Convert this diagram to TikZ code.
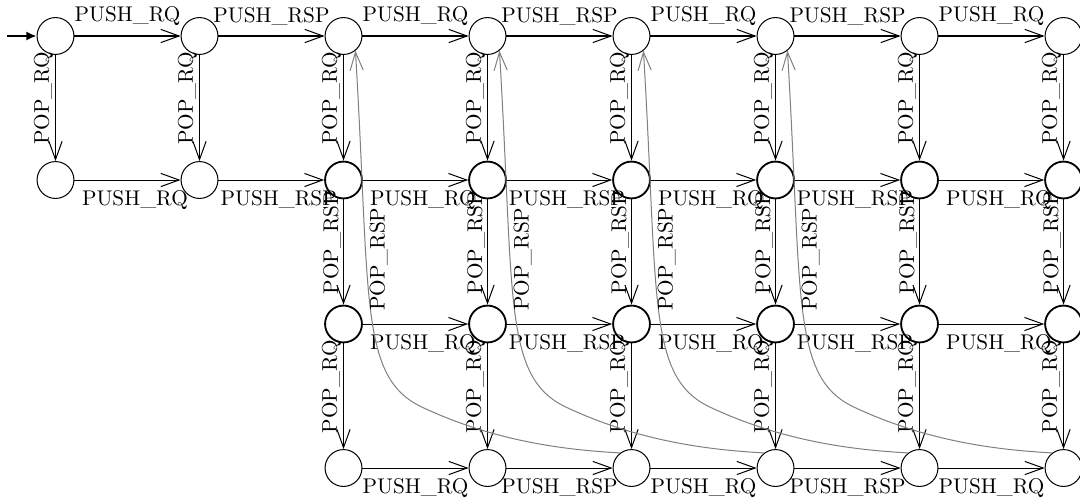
\documentclass[tikz,border=0pt]{standalone}
\usepackage{tikz}
\usetikzlibrary{positioning, arrows.meta}
\tikzset{
  every node/.style={font=\fontsize{10.5}{12.5}\selectfont},
  % states
  loc/.style ={circle, draw, line width=0.5pt, minimum size=0.64cm, inner sep=0pt},
  busy/.style={loc, line width=0.9pt},
  % transitions
  trans/.style={line width=0.5pt, -{Straight Barb[length=9pt,width=6.5pt]}},
  back/.style ={trans, gray},
  entry/.style={line width=1pt, -{Latex[length=5pt,width=4.5pt]}},
  % labels
  hlbl/.style={inner sep=5pt},
  vlbl/.style={rotate=90, anchor=south, inner sep=1pt, pos=0.41},
  blbl/.style={rotate=90, anchor=north, inner sep=1.5pt, pos=0.64, text=black},
}

\begin{document}
\begin{tikzpicture}[on grid, node distance=2.5cm]

\useasboundingbox (-0.9635,-8.108) rectangle (17.786,0.625);

% row 0
\node[loc] (r0c0) at (0,0) {};
\node[loc, right=of r0c0] (r0c1) {};
\node[loc, right=of r0c1] (r0c2) {};
\node[loc, right=of r0c2] (r0c3) {};
\node[loc, right=of r0c3] (r0c4) {};
\node[loc, right=of r0c4] (r0c5) {};
\node[loc, right=of r0c5] (r0c6) {};
\node[loc, right=of r0c6] (r0c7) {};

% row 1
\node[loc,  below=of r0c0] (r1c0) {};
\node[loc,  right=of r1c0] (r1c1) {};
\node[busy, right=of r1c1] (r1c2) {};
\node[busy, right=of r1c2] (r1c3) {};
\node[busy, right=of r1c3] (r1c4) {};
\node[busy, right=of r1c4] (r1c5) {};
\node[busy, right=of r1c5] (r1c6) {};
\node[busy, right=of r1c6] (r1c7) {};

% row 2
\node[busy, below=of r1c2] (r2c2) {};
\node[busy, right=of r2c2] (r2c3) {};
\node[busy, right=of r2c3] (r2c4) {};
\node[busy, right=of r2c4] (r2c5) {};
\node[busy, right=of r2c5] (r2c6) {};
\node[busy, right=of r2c6] (r2c7) {};

% row 3
\node[loc, below=of r2c2] (r3c2) {};
\node[loc, right=of r3c2] (r3c3) {};
\node[loc, right=of r3c3] (r3c4) {};
\node[loc, right=of r3c4] (r3c5) {};
\node[loc, right=of r3c5] (r3c6) {};
\node[loc, right=of r3c6] (r3c7) {};

% initial state
\coordinate[left=0.84cm of r0c0] (start);
\draw[entry] (start) -- (r0c0);

% pushes
\draw[trans] (r0c0) -- node[above, hlbl] {PUSH\_RQ}  (r0c1);
\draw[trans] (r0c1) -- node[above, hlbl] {PUSH\_RSP} (r0c2);
\draw[trans] (r0c2) -- node[above, hlbl] {PUSH\_RQ}  (r0c3);
\draw[trans] (r0c3) -- node[above, hlbl] {PUSH\_RSP} (r0c4);
\draw[trans] (r0c4) -- node[above, hlbl] {PUSH\_RQ}  (r0c5);
\draw[trans] (r0c5) -- node[above, hlbl] {PUSH\_RSP} (r0c6);
\draw[trans] (r0c6) -- node[above, hlbl] {PUSH\_RQ}  (r0c7);

\draw[trans] (r1c0) -- node[below, hlbl, pos=0.57] {PUSH\_RQ}  (r1c1);
\draw[trans] (r1c1) -- node[below, hlbl, pos=0.57] {PUSH\_RSP} (r1c2);
\draw[trans] (r1c2) -- node[below, hlbl, pos=0.57] {PUSH\_RQ}  (r1c3);
\draw[trans] (r1c3) -- node[below, hlbl, pos=0.57] {PUSH\_RSP} (r1c4);
\draw[trans] (r1c4) -- node[below, hlbl, pos=0.57] {PUSH\_RQ}  (r1c5);
\draw[trans] (r1c5) -- node[below, hlbl, pos=0.57] {PUSH\_RSP} (r1c6);
\draw[trans] (r1c6) -- node[below, hlbl, pos=0.57] {PUSH\_RQ}  (r1c7);

\draw[trans] (r2c2) -- node[below, hlbl, pos=0.57] {PUSH\_RQ}  (r2c3);
\draw[trans] (r2c3) -- node[below, hlbl, pos=0.57] {PUSH\_RSP} (r2c4);
\draw[trans] (r2c4) -- node[below, hlbl, pos=0.57] {PUSH\_RQ}  (r2c5);
\draw[trans] (r2c5) -- node[below, hlbl, pos=0.57] {PUSH\_RSP} (r2c6);
\draw[trans] (r2c6) -- node[below, hlbl, pos=0.57] {PUSH\_RQ}  (r2c7);

\draw[trans] (r3c2) -- node[below, hlbl] {PUSH\_RQ}  (r3c3);
\draw[trans] (r3c3) -- node[below, hlbl] {PUSH\_RSP} (r3c4);
\draw[trans] (r3c4) -- node[below, hlbl] {PUSH\_RQ}  (r3c5);
\draw[trans] (r3c5) -- node[below, hlbl] {PUSH\_RSP} (r3c6);
\draw[trans] (r3c6) -- node[below, hlbl] {PUSH\_RQ}  (r3c7);

% pops
\draw[trans] (r0c0) -- node[vlbl] {POP\_RQ} (r1c0);
\draw[trans] (r0c1) -- node[vlbl] {POP\_RQ} (r1c1);
\draw[trans] (r0c2) -- node[vlbl] {POP\_RQ} (r1c2);
\draw[trans] (r0c3) -- node[vlbl] {POP\_RQ} (r1c3);
\draw[trans] (r0c4) -- node[vlbl] {POP\_RQ} (r1c4);
\draw[trans] (r0c5) -- node[vlbl] {POP\_RQ} (r1c5);
\draw[trans] (r0c6) -- node[vlbl] {POP\_RQ} (r1c6);
\draw[trans] (r0c7) -- node[vlbl] {POP\_RQ} (r1c7);

\draw[trans] (r1c2) -- node[vlbl] {POP\_RSP} (r2c2);
\draw[trans] (r1c3) -- node[vlbl] {POP\_RSP} (r2c3);
\draw[trans] (r1c4) -- node[vlbl] {POP\_RSP} (r2c4);
\draw[trans] (r1c5) -- node[vlbl] {POP\_RSP} (r2c5);
\draw[trans] (r1c6) -- node[vlbl] {POP\_RSP} (r2c6);
\draw[trans] (r1c7) -- node[vlbl] {POP\_RSP} (r2c7);

\draw[trans] (r2c2) -- node[vlbl] {POP\_RQ} (r3c2);
\draw[trans] (r2c3) -- node[vlbl] {POP\_RQ} (r3c3);
\draw[trans] (r2c4) -- node[vlbl] {POP\_RQ} (r3c4);
\draw[trans] (r2c5) -- node[vlbl] {POP\_RQ} (r3c5);
\draw[trans] (r2c6) -- node[vlbl] {POP\_RQ} (r3c6);
\draw[trans] (r2c7) -- node[vlbl] {POP\_RQ} (r3c7);

% late responses back to the top row
\draw[back] (r3c4.127) .. controls +(177:1.22) and +(-25:1.22) .. ++(-3.43,0.79)
  .. controls +(155:1.22) and +(0.26,-4.34) .. (r0c2.-51) node[blbl] {POP\_RSP};
\draw[back] (r3c5.127) .. controls +(177:1.22) and +(-25:1.22) .. ++(-3.43,0.79)
  .. controls +(155:1.22) and +(0.26,-4.34) .. (r0c3.-51) node[blbl] {POP\_RSP};
\draw[back] (r3c6.127) .. controls +(177:1.22) and +(-25:1.22) .. ++(-3.43,0.79)
  .. controls +(155:1.22) and +(0.26,-4.34) .. (r0c4.-51) node[blbl] {POP\_RSP};
\draw[back] (r3c7.127) .. controls +(177:1.22) and +(-25:1.22) .. ++(-3.43,0.79)
  .. controls +(155:1.22) and +(0.26,-4.34) .. (r0c5.-51) node[blbl] {POP\_RSP};

\end{tikzpicture}
\end{document}
